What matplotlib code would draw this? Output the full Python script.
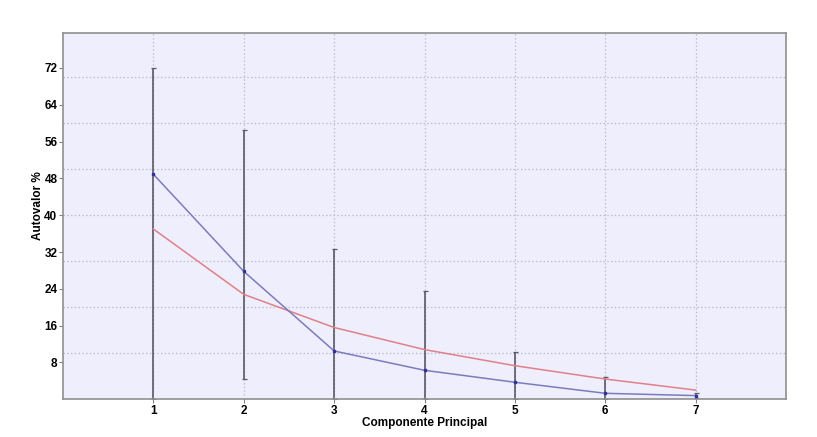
import matplotlib
matplotlib.use("Agg")
import matplotlib.pyplot as plt
from matplotlib.ticker import FixedLocator

components = [1, 2, 3, 4, 5, 6, 7]
eigen_pct = [48.9, 27.8, 10.5, 6.3, 3.7, 1.3, 0.8]
broken_stick = [37.0, 22.8, 15.6, 10.8, 7.3, 4.4, 2.0]
err_low = [0.0, 4.5, 0.0, 0.0, 0.0, 0.0, 0.3]
err_high = [72.1, 58.5, 32.7, 23.5, 10.3, 4.8, 1.3]
yticks = [8, 16, 24, 32, 40, 48, 56, 64, 72]
ygrid = [10, 20, 30, 40, 50, 60, 70]

plt.rcParams['font.family'] = ['Liberation Sans', 'DejaVu Sans']
fig = plt.figure(figsize=(8.17, 4.37), dpi=100)
ax = fig.add_axes([0.0771, 0.0863, 0.885, 0.8382])
ax.set_facecolor('#EEEEFC')

ax.set_xlim(0, 8)
ax.set_ylim(0, 79.6)

# grid
for g in ygrid:
    ax.axhline(g, color='#BDBDCB', lw=0.9, ls=(0, (1.2, 1.8)), zorder=1)
for c in components:
    ax.axvline(c, color='#BDBDCB', lw=0.9, ls=(0, (1.2, 1.8)), zorder=1)

# error bars
lower = [e - l for e, l in zip(eigen_pct, err_low)]
upper = [h - e for e, h in zip(eigen_pct, err_high)]
ax.errorbar(components, eigen_pct, yerr=[lower, upper], fmt='none',
            ecolor='#5A5A66', elinewidth=1.2, capsize=1.8, capthick=0.9, zorder=2)

ax.plot(components, broken_stick, color='#E08088', lw=1.1, zorder=3)
ax.plot(components, eigen_pct, color='#7C7CBC', lw=1.1, zorder=4)
ax.plot(components, eigen_pct, ls='none', marker='s', ms=2, color='#3030A0', zorder=5)

ax.xaxis.set_major_locator(FixedLocator(components))
ax.yaxis.set_major_locator(FixedLocator(yticks))
ax.set_xticklabels([str(c) for c in components])
ax.set_yticklabels([str(t) for t in yticks])
ax.tick_params(axis='both', direction='out', length=3, width=0.8, color='#808080',
               labelsize=8.5, pad=1)
for lab in ax.get_xticklabels() + ax.get_yticklabels():
    lab.set_fontweight('bold')

for sp in ax.spines.values():
    sp.set_color('#909090')
    sp.set_linewidth(1.2)

ax.set_xlabel('Componente Principal', fontsize=8.5, fontweight='bold', labelpad=0)
ax.set_ylabel('Autovalor %', fontsize=8.5, fontweight='bold', labelpad=2)
ax.yaxis.set_label_coords(-0.026, 0.53)

fig.savefig('out.png', dpi=100, facecolor='white')
